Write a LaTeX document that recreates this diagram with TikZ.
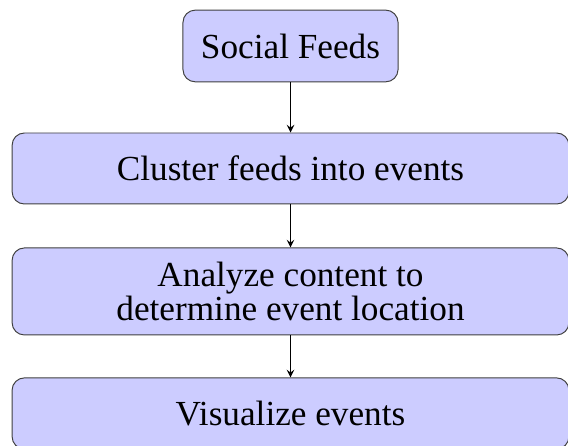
\documentclass[tikz,border=0pt]{standalone}
\usepackage{fontspec}
\setmainfont{Liberation Serif}
\begin{document}
\begin{tikzpicture}[>=stealth, font={\fontsize{14.4pt}{12pt}\selectfont},
    stage/.style={draw=black!75, fill=blue!20, rounded corners=5pt, align=center,
        minimum width=8cm, minimum height=1.02cm}]
    \useasboundingbox (0,0) rectangle (8.161,-6.408);
    \node[stage, minimum width=3.09cm, minimum height=1.03cm] (feeds) at (4.174,-0.661) {Social Feeds};
    \node[stage] (cluster) at (4.174,-2.421) {Cluster feeds into events};
    \node[stage, minimum height=1.25cm] (locate) at (4.174,-4.188) {Analyze content to\\determine event location};
    \node[stage] (visual) at (4.174,-5.94) {Visualize events};
    %\draw[->] (locate.south) -- (visual.north);
    \draw[->] (feeds) -- (cluster);
    \draw[->] (cluster) -- (locate);
    \draw[->] (locate) -- (visual);
\end{tikzpicture}
\end{document}
